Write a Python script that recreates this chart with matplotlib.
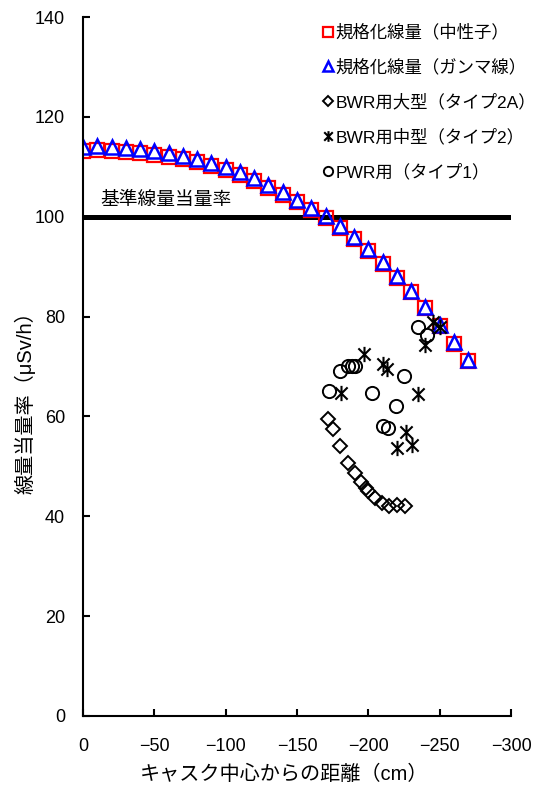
import matplotlib
matplotlib.use('Agg')
import matplotlib.pyplot as plt
from matplotlib.path import Path

plt.rcParams['font.family'] = ['Liberation Sans', 'Noto Sans CJK JP']

# Normalized dose along the cask (0 to -270 cm, every 10 cm)
dist = [0, -10, -20, -30, -40, -50, -60, -70, -80, -90, -100, -110, -120, -130,
        -140, -150, -160, -170, -180, -190, -200, -210, -220, -230, -240, -250,
        -260, -270]
neutron = [113.2, 113.4, 113.2, 113.0, 112.8, 112.4, 112.0, 111.5, 110.9, 110.2,
           109.3, 108.3, 107.1, 105.8, 104.4, 102.9, 101.3, 99.7, 97.8, 95.6,
           93.2, 90.6, 87.8, 84.9, 81.7, 78.1, 74.6, 71.1]
gamma = [114.0, 114.2, 114.0, 113.8, 113.5, 113.1, 112.7, 112.2, 111.6, 110.8,
         109.9, 108.9, 107.7, 106.4, 105.0, 103.4, 101.8, 100.2, 98.2, 96.0,
         93.6, 91.0, 88.1, 85.2, 82.0, 78.4, 74.9, 71.4]

# Measured values per cask type
bwr2a_x = [-171.5, -175.4, -180.3, -185.5, -190.6, -194.8, -198.1, -199.9, -204.6,
           -209.7, -214.6, -220.2, -225.6]
bwr2a_y = [59.5, 57.4, 54.1, 50.7, 48.6, 46.9, 45.6, 45.1, 43.6, 42.6, 42.1, 42.3, 42.1]

bwr2_x = [-196.9, -210.0, -212.8, -180.8, -235.0, -226.1, -220.3, -230.3, -245.5,
          -250.2, -239.7]
bwr2_y = [72.5, 70.6, 69.5, 64.6, 64.4, 56.9, 53.6, 54.3, 79.0, 78.0, 74.3]

pwr1_x = [-180.1, -185.9, -188.3, -190.6, -172.6, -202.3, -225.2, -219.1, -210.0,
          -213.9, -235.0, -240.9]
pwr1_y = [69.0, 70.0, 70.1, 70.0, 65.1, 64.6, 68.1, 62.1, 58.1, 57.7, 78.0, 76.3]

ref_level = 100

# asterisk marker: X plus a vertical bar
star = Path([(0, -1), (0, 1), (-0.8, -0.8), (0.8, 0.8), (-0.8, 0.8), (0.8, -0.8)],
            [Path.MOVETO, Path.LINETO, Path.MOVETO, Path.LINETO, Path.MOVETO, Path.LINETO])

fig = plt.figure(figsize=(5.48, 7.92), dpi=100)
ax = fig.add_axes([0.1515, 0.096, 0.781, 0.8825])

ax.plot([0, -300], [ref_level, ref_level], color='black', lw=3.6, zorder=1)
ax.text(-12, 103.3, '基準線量当量率', fontsize=13.5, va='center', ha='left')

ax.plot(dist, neutron, ls='none', marker='s', ms=10.5, mec='red', mfc='none',
        mew=1.6, label='規格化線量（中性子）')
ax.plot(dist, gamma, ls='none', marker='^', ms=9.5, mec='blue', mfc='none',
        mew=1.8, label='規格化線量（ガンマ線）')
ax.plot(bwr2a_x, bwr2a_y, ls='none', marker='D', ms=7.5, mec='black', mfc='none',
        mew=1.4, label='BWR用大型（タイプ2A）')
ax.plot(bwr2_x, bwr2_y, ls='none', marker=star, ms=11, mec='black', mfc='none',
        mew=1.5, label='BWR用中型（タイプ2）')
ax.plot(pwr1_x, pwr1_y, ls='none', marker='o', ms=9.5, mec='black', mfc='none',
        mew=1.4, label='PWR用（タイプ1）')

ax.set_xlim(0, -300)
ax.set_ylim(0, 140)
ax.set_xticks(range(0, -301, -50))
ax.set_yticks(range(0, 141, 20))
ax.spines['top'].set_visible(False)
ax.spines['right'].set_visible(False)
for s in ['left', 'bottom']:
    ax.spines[s].set_linewidth(1.5)
ax.tick_params(axis='both', direction='in', length=5, width=1.5, labelsize=13)
ax.tick_params(axis='x', pad=16)
ax.tick_params(axis='y', pad=13)

ax.set_xlabel('キャスク中心からの距離（cm）', fontsize=14.5)
ax.xaxis.set_label_coords(0.47, -0.07)
ax.set_ylabel('線量当量率（μSv/h）', fontsize=14.5)
ax.yaxis.set_label_coords(-0.112, 0.455)

ax.legend(loc='upper left', bbox_to_anchor=(0.535, 1.005), frameon=False,
          fontsize=12.5, markerscale=0.7, handlelength=0.6, handletextpad=0.15,
          labelspacing=1.05, borderaxespad=0.2)

fig.savefig('out.png', dpi=100)
